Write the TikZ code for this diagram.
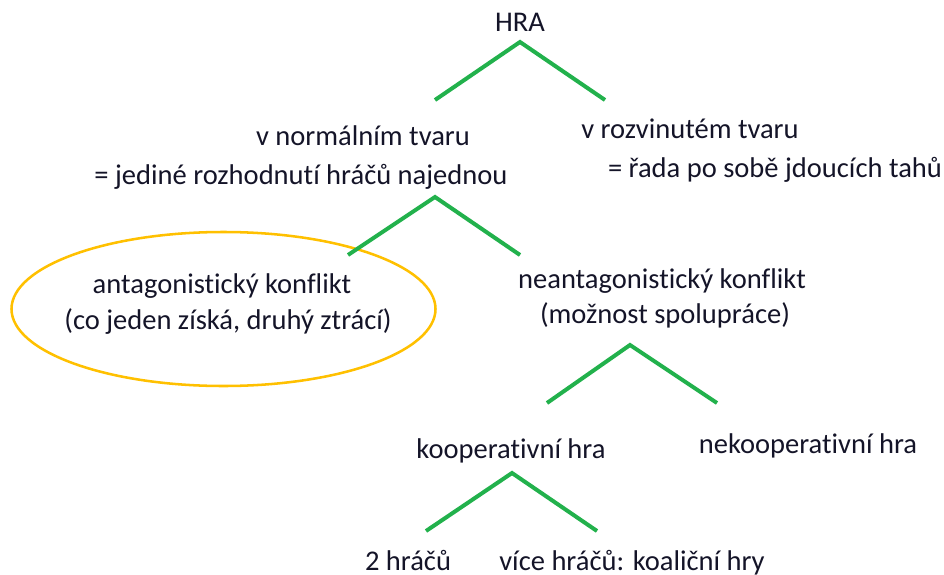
\documentclass[tikz,border=0pt]{standalone}
\usepackage{fontspec}
\setmainfont[Ligatures=NoCommon]{Carlito}
\definecolor{lgreen}{RGB}{34,177,76}
\definecolor{lorange}{RGB}{255,192,0}
\definecolor{ltext}{RGB}{20,20,40}
\begin{document}
\begin{tikzpicture}[x=0.75pt,y=-0.75pt,
  lbl/.style={text=ltext,font=\fontsize{21.4}{26}\selectfont,inner sep=0pt,anchor=base},
  branch/.style={draw=lgreen,line width=3pt,line join=miter}]
\useasboundingbox (0,0) rectangle (944,574);
% ellipse
\draw[lorange,line width=1.9pt] (223.5,309) ellipse [x radius=212,y radius=77];
% texts
\node[lbl] (hra) at (520,32) {HRA};
\node[lbl] (norm) at (363,146) {v normálním tvaru};
\node[lbl] (normd) at (301,184) {= jediné rozhodnutí hráčů najednou};
\node[lbl] (rozv) at (690,138) {v rozvinutém tvaru};
\node[lbl] (rozvd) at (775,177) {= řada po sobě jdoucích tahů};
\node[lbl] (ant) at (222,293) {antagonistický konflikt};
\node[lbl] (antd) at (228,329) {(co jeden získá, druhý ztrácí)};
\node[lbl] (nea) at (662,288) {neantagonistický konflikt};
\node[lbl] (nead) at (665,323) {(možnost spolupráce)};
\node[lbl] (koop) at (511,458) {kooperativní hra};
\node[lbl] (nekoop) at (808,453) {nekooperativní hra};
\node[lbl] (dva) at (408,570) {2 hráčů};
\node[lbl] (vice) at (632,570) {více hráčů: koaliční hry};
% branches
\coordinate (a1) at (520,42); \coordinate (l1) at (435,100); \coordinate (r1) at (605,100);
\coordinate (a2) at (435,197); \coordinate (l2) at (348,255); \coordinate (r2) at (520,255);
\coordinate (a3) at (630,345); \coordinate (l3) at (547,403); \coordinate (r3) at (717,403);
\coordinate (a4) at (512,473); \coordinate (l4) at (426,531); \coordinate (r4) at (597,531);
\draw[branch] (l1) -- (a1) -- (r1);
\draw[branch] (l2) -- (a2) -- (r2);
\draw[branch] (l3) -- (a3) -- (r3);
\draw[branch] (l4) -- (a4) -- (r4);
\end{tikzpicture}
\end{document}
